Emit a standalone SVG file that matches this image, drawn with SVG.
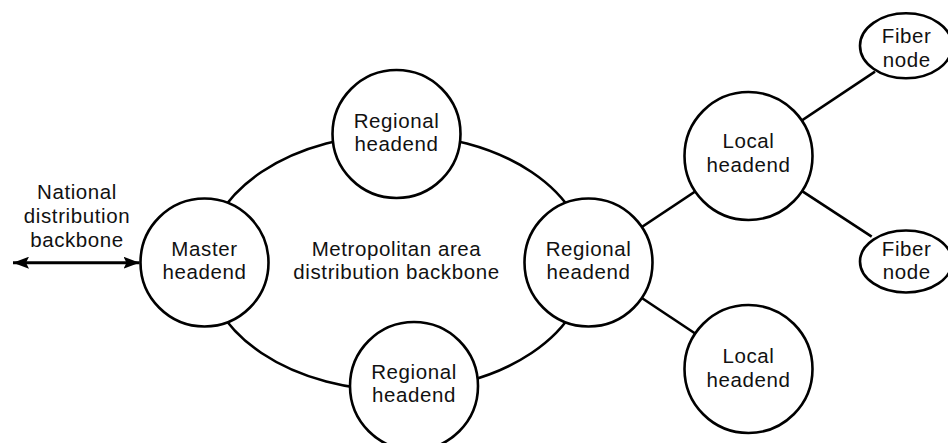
<svg xmlns="http://www.w3.org/2000/svg" width="948" height="443" viewBox="0 0 948 443">
<style>
.n{fill:#fff;stroke:#000;stroke-width:2.6}
.c{fill:none;stroke:#000;stroke-width:2.6}
text{font-family:"Liberation Sans",Arial,sans-serif;font-size:20.5px;letter-spacing:0.6px;text-anchor:middle;fill:#111}
</style>
<defs>
<marker id="ah" viewBox="0 0 16 12" refX="16" refY="6" markerWidth="16" markerHeight="12" markerUnits="userSpaceOnUse" orient="auto-start-reverse">
<path d="M0,0 L16,6 L0,12 L3,6 Z" fill="#000"/>
</marker>
</defs>
<rect width="948" height="443" fill="#fff"/>
<g id="connectors">
<ellipse class="c" cx="396.5" cy="262.5" rx="191" ry="128"/>
<line class="c" x1="588.5" y1="262.5" x2="748.5" y2="156"/>
<line class="c" x1="588.5" y1="262.5" x2="748.5" y2="369"/>
<line class="c" x1="748.5" y1="156" x2="875" y2="71.7"/>
<line class="c" x1="748.5" y1="156" x2="871.7" y2="236.7"/>
<line x1="13" y1="262.7" x2="139.5" y2="262.7" stroke="#000" stroke-width="3" marker-start="url(#ah)" marker-end="url(#ah)"/>
</g>
<g id="national-label">
<text x="77" y="199.3">National</text>
<text x="77" y="223.3">distribution</text>
<text x="77" y="247.3">backbone</text>
</g>
<g id="metro-label">
<text x="396.5" y="256">Metropolitan area</text>
<text x="396.5" y="279.3">distribution backbone</text>
</g>
<g id="master">
<circle class="n" cx="204.5" cy="262.5" r="64"/>
<text x="204.5" y="255.7">Master</text>
<text x="204.5" y="279">headend</text>
</g>
<g id="regional-top">
<circle class="n" cx="396.5" cy="134" r="64"/>
<text x="396.5" y="127.7">Regional</text>
<text x="396.5" y="151">headend</text>
</g>
<g id="regional-right">
<circle class="n" cx="588.5" cy="262.5" r="64"/>
<text x="588.5" y="255.5">Regional</text>
<text x="588.5" y="279">headend</text>
</g>
<g id="regional-bottom">
<circle class="n" cx="414" cy="386" r="64"/>
<text x="414" y="379">Regional</text>
<text x="414" y="401.7">headend</text>
</g>
<g id="local-top">
<circle class="n" cx="748.5" cy="156" r="64"/>
<text x="748.5" y="148.3">Local</text>
<text x="748.5" y="172.3">headend</text>
</g>
<g id="local-bottom">
<circle class="n" cx="748.5" cy="369" r="64"/>
<text x="748.5" y="363.3">Local</text>
<text x="748.5" y="386.7">headend</text>
</g>
<g id="fiber-top">
<ellipse class="n" cx="906" cy="45.8" rx="46" ry="32.5"/>
<text x="906.7" y="43.3">Fiber</text>
<text x="906.7" y="66.7">node</text>
</g>
<g id="fiber-bottom">
<ellipse class="n" cx="906" cy="261.5" rx="46" ry="31"/>
<text x="906.7" y="255.5">Fiber</text>
<text x="906.7" y="279">node</text>
</g>
</svg>
